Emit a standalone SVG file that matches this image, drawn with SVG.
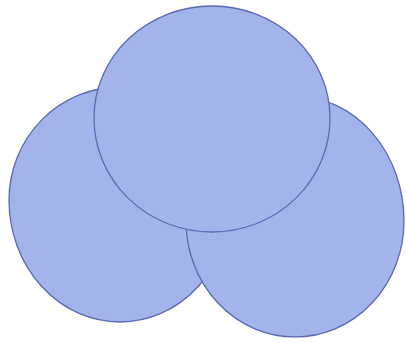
<svg xmlns="http://www.w3.org/2000/svg" width="406" height="343" viewBox="0 0 406 343">
<style>
.disc{fill:#a3b4ea;stroke:#5a69b3;stroke-width:1.3}
</style>
<rect width="406" height="343" fill="#ffffff"/>
<g id="connectors"/>
<g id="circle-left">
<path class="disc" d="M9,200 A111,113 0 0 1 231,200 A111,122 0 0 1 9,200 Z"/>
</g>
<g id="circle-right">
<path class="disc" d="M186,221 A109,125 0 0 1 404,221 A109,116 0 0 1 186,221 Z"/>
</g>
<g id="circle-top">
<path class="disc" d="M94,118 A118,112 0 0 1 330,118 A118,114 0 0 1 94,118 Z"/>
</g>
</svg>
